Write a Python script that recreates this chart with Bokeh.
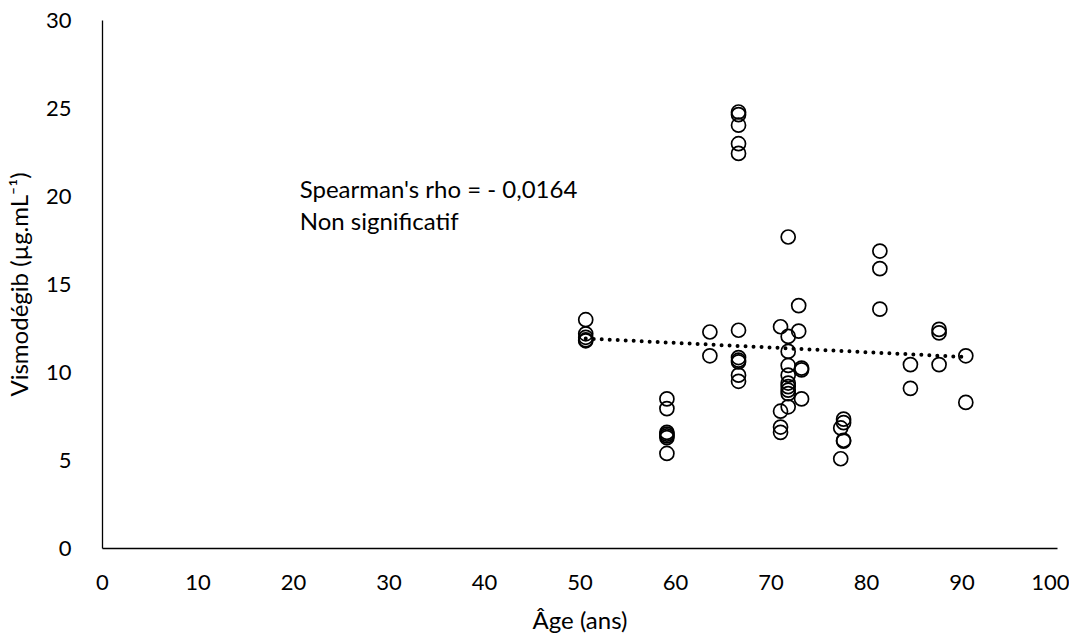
from bokeh.plotting import figure
from bokeh.models import Range1d, ColumnDataSource
from bokeh.core.properties import value
from bokeh.embed import file_html
from bokeh.resources import INLINE

# Data
age = [50.6, 50.6, 50.6, 50.6, 50.6,
       59.1, 59.1, 59.1, 59.1, 59.1, 59.1, 59.1,
       63.6, 63.6,
       66.6, 66.6, 66.6, 66.6, 66.6, 66.6, 66.6, 66.6, 66.6, 66.6, 66.6,
       71.0, 71.0, 71.0, 71.0,
       71.8, 71.8, 71.8, 71.8, 71.8, 71.8, 71.8, 71.8, 71.8, 71.8,
       72.9, 72.9, 73.2, 73.2, 73.2,
       77.3, 77.3, 77.6, 77.6, 77.6, 77.6,
       81.4, 81.4, 81.4,
       84.6, 84.6,
       87.6, 87.6, 87.6,
       90.4, 90.4]
conc = [13.0, 12.2, 12.0, 11.85, 11.8,
        8.5, 7.95, 6.6, 6.5, 6.4, 6.3, 5.4,
        12.3, 10.95,
        24.8, 24.65, 24.05, 23.0, 22.45, 12.4, 10.85, 10.7, 10.6, 9.85, 9.5,
        12.6, 7.8, 6.9, 6.6,
        17.7, 12.05, 11.2, 10.4, 9.85, 9.4, 9.2, 9.0, 8.8, 8.05,
        13.8, 12.35, 10.25, 10.15, 8.5,
        6.85, 5.1, 7.35, 7.15, 6.15, 6.1,
        16.9, 15.9, 13.6,
        10.45, 9.1,
        12.45, 12.25, 10.45,
        10.95, 8.3]
trend_x = [50.6, 90.4]
trend_y = [11.93, 10.88]
x_ticks = [0, 10, 20, 30, 40, 50, 60, 70, 80, 90, 100]
y_ticks = [0, 5, 10, 15, 20, 25, 30]
note_lines = ["Spearman's rho = - 0,0164", "Non significatif"]
note_x = [20.65, 20.65]
note_y = [20.45, 18.64]

FONT = "Lato"

p = figure(width=1069, height=636, output_backend="svg", toolbar_location=None,
           x_range=Range1d(0, 100), y_range=Range1d(0, 30),
           min_border_left=98, min_border_right=12, min_border_top=20, min_border_bottom=88)
p.outline_line_color = None
p.xgrid.grid_line_color = None
p.ygrid.grid_line_color = None

p.line(trend_x, trend_y, line_color="black", line_width=4, line_dash="0 8", line_cap="round")
p.scatter(age, conc, size=14, marker="circle", line_color="black", line_width=1.7,
          fill_alpha=0)

src = ColumnDataSource(dict(x=note_x, y=note_y, t=note_lines))
p.text(x="x", y="y", text="t", source=src, text_font=value(FONT), text_font_size="24px",
       text_baseline="middle", text_align="left", text_color="black")

p.xaxis.ticker = x_ticks
p.yaxis.ticker = y_ticks
for ax in (p.xaxis[0], p.yaxis[0]):
    ax.axis_line_color = "black"
    ax.axis_line_width = 1.3
    ax.major_tick_line_color = None
    ax.minor_tick_line_color = None
    ax.major_label_text_font = FONT
    ax.major_label_text_font_size = "22px"
    ax.major_label_text_color = "black"
    ax.axis_label_text_font = FONT
    ax.axis_label_text_font_size = "24px"
    ax.axis_label_text_font_style = "normal"
    ax.axis_label_text_color = "black"

p.xaxis.axis_label = "Âge (ans)"
p.yaxis.axis_label = "Vismodégib (µg.mL⁻¹)"
p.xaxis.major_label_standoff = 20
p.yaxis.major_label_standoff = 25
p.xaxis.axis_label_standoff = 12
p.yaxis.axis_label_standoff = 10

open("out.html", "w").write(file_html(p, INLINE))
